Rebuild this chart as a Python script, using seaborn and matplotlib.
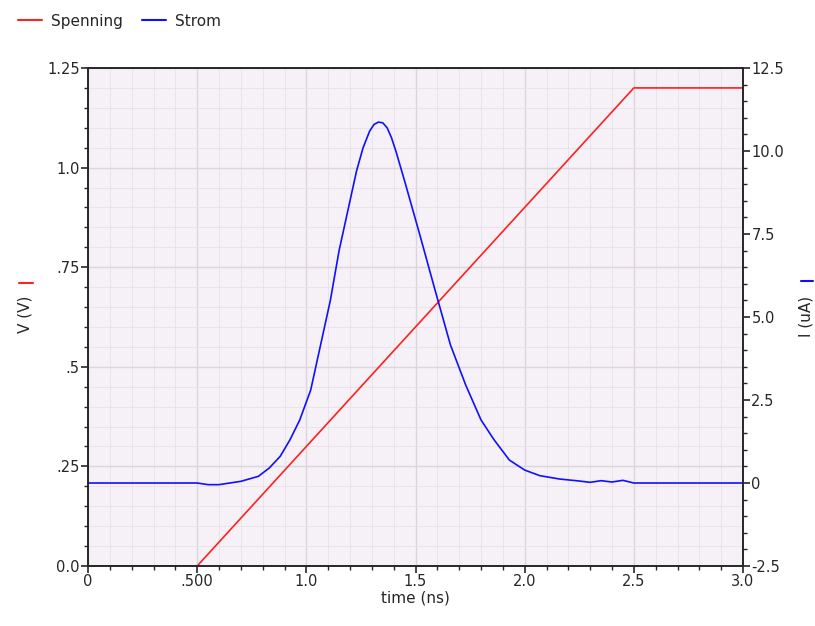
import numpy as np
import pandas as pd
import matplotlib
matplotlib.use("Agg")
import matplotlib.pyplot as plt
import seaborn as sns
from matplotlib.lines import Line2D
from matplotlib.ticker import MultipleLocator, FixedLocator

# voltage ramp (V) vs time (ns)
v_time = [0.0, 0.5, 2.5, 3.0]
v_vals = [0.0, 0.0, 1.2, 1.2]

# current (uA) vs time (ns)
i_time = [0.0, 0.5, 0.55, 0.6, 0.7, 0.78, 0.83, 0.88, 0.925, 0.97, 1.02, 1.06, 1.11, 1.15,
          1.2, 1.23, 1.26, 1.29, 1.31, 1.33, 1.35, 1.37, 1.39, 1.41, 1.45, 1.52, 1.59,
          1.66, 1.73, 1.80, 1.86, 1.93, 2.0, 2.07, 2.16, 2.25, 2.3, 2.35, 2.4, 2.45,
          2.5, 3.0]
i_vals = [0.0, 0.0, -0.05, -0.05, 0.05, 0.2, 0.45, 0.8, 1.3, 1.9, 2.8, 4.0, 5.5, 7.0,
          8.5, 9.4, 10.1, 10.6, 10.8, 10.87, 10.85, 10.7, 10.4, 10.0, 9.1, 7.47, 5.8,
          4.16, 2.95, 1.9, 1.3, 0.69, 0.39, 0.22, 0.12, 0.06, 0.02, 0.07, 0.03, 0.08,
          0.0, 0.0]

v_df = pd.DataFrame({"time": v_time, "V": v_vals})
i_df = pd.DataFrame({"time": i_time, "I": i_vals})

sns.set_style("ticks")
plt.rcParams["font.family"] = ["DejaVu Sans"]

fig = plt.figure(figsize=(8.15, 6.26), dpi=100)
ax = fig.add_axes([88/815, 1-566/626, (743-88)/815, (566-68)/626])
ax.set_facecolor("#f6f1f6")
ax2 = ax.twinx()

sns.lineplot(data=v_df, x="time", y="V", ax=ax, color="#ff2020", lw=1.2)
sns.lineplot(data=i_df, x="time", y="I", ax=ax2, color="#1010ff", lw=1.2)

ax.set_xlim(0, 3.0)
ax.set_ylim(0, 1.25)
ax2.set_ylim(-2.5, 12.5)

ax.xaxis.set_major_locator(FixedLocator([0, 0.5, 1.0, 1.5, 2.0, 2.5, 3.0]))
ax.set_xticklabels(["0", ".500", "1.0", "1.5", "2.0", "2.5", "3.0"])
ax.xaxis.set_minor_locator(MultipleLocator(0.1))
ax.yaxis.set_major_locator(FixedLocator([0, 0.25, 0.5, 0.75, 1.0, 1.25]))
ax.set_yticklabels(["0.0", ".25", ".5", ".75", "1.0", "1.25"])
ax.yaxis.set_minor_locator(MultipleLocator(0.05))
ax2.yaxis.set_major_locator(FixedLocator([-2.5, 0, 2.5, 5.0, 7.5, 10.0, 12.5]))
ax2.set_yticklabels(["-2.5", "0", "2.5", "5.0", "7.5", "10.0", "12.5"])
ax2.yaxis.set_minor_locator(MultipleLocator(0.5))

for a in (ax, ax2):
    a.tick_params(which="major", direction="out", length=5, width=1.2, labelsize=10.5, pad=1)
    a.tick_params(which="minor", direction="out", length=3, width=1.0)
    for s in a.spines.values():
        s.set_linewidth(1.2)
        s.set_visible(True)

ax.grid(which="major", color="#dcd6dc", lw=1.0)
ax.grid(which="minor", color="#e8e2e8", lw=0.6)
ax.set_axisbelow(True)

ax.set_xlabel("time (ns)", fontsize=11, labelpad=1)
ax.set_ylabel("")
ax2.set_ylabel("")
fig.text(25/815, 1-314/626, "V (V)", rotation=90, ha="center", va="center", fontsize=11)
fig.text(806/815, 1-316/626, "I (uA)", rotation=90, ha="center", va="center", fontsize=11)

# little colour keys next to the axis titles
fig.add_artist(Line2D([19/815, 33/815], [1-283/626, 1-283/626], color="#ff2020", lw=1.5))
fig.add_artist(Line2D([801/815, 813/815], [1-281/626, 1-281/626], color="#1010ff", lw=1.5))

handles = [Line2D([], [], color="#ff2020", lw=1.5), Line2D([], [], color="#1010ff", lw=1.5)]
fig.legend(handles, ["Spenning", "Strom"], loc="upper left", bbox_to_anchor=(0.005, 1.0),
           ncol=2, frameon=False, fontsize=11, handlelength=1.6, handletextpad=0.6,
           columnspacing=1.2)

fig.savefig("out.png", dpi=100)
